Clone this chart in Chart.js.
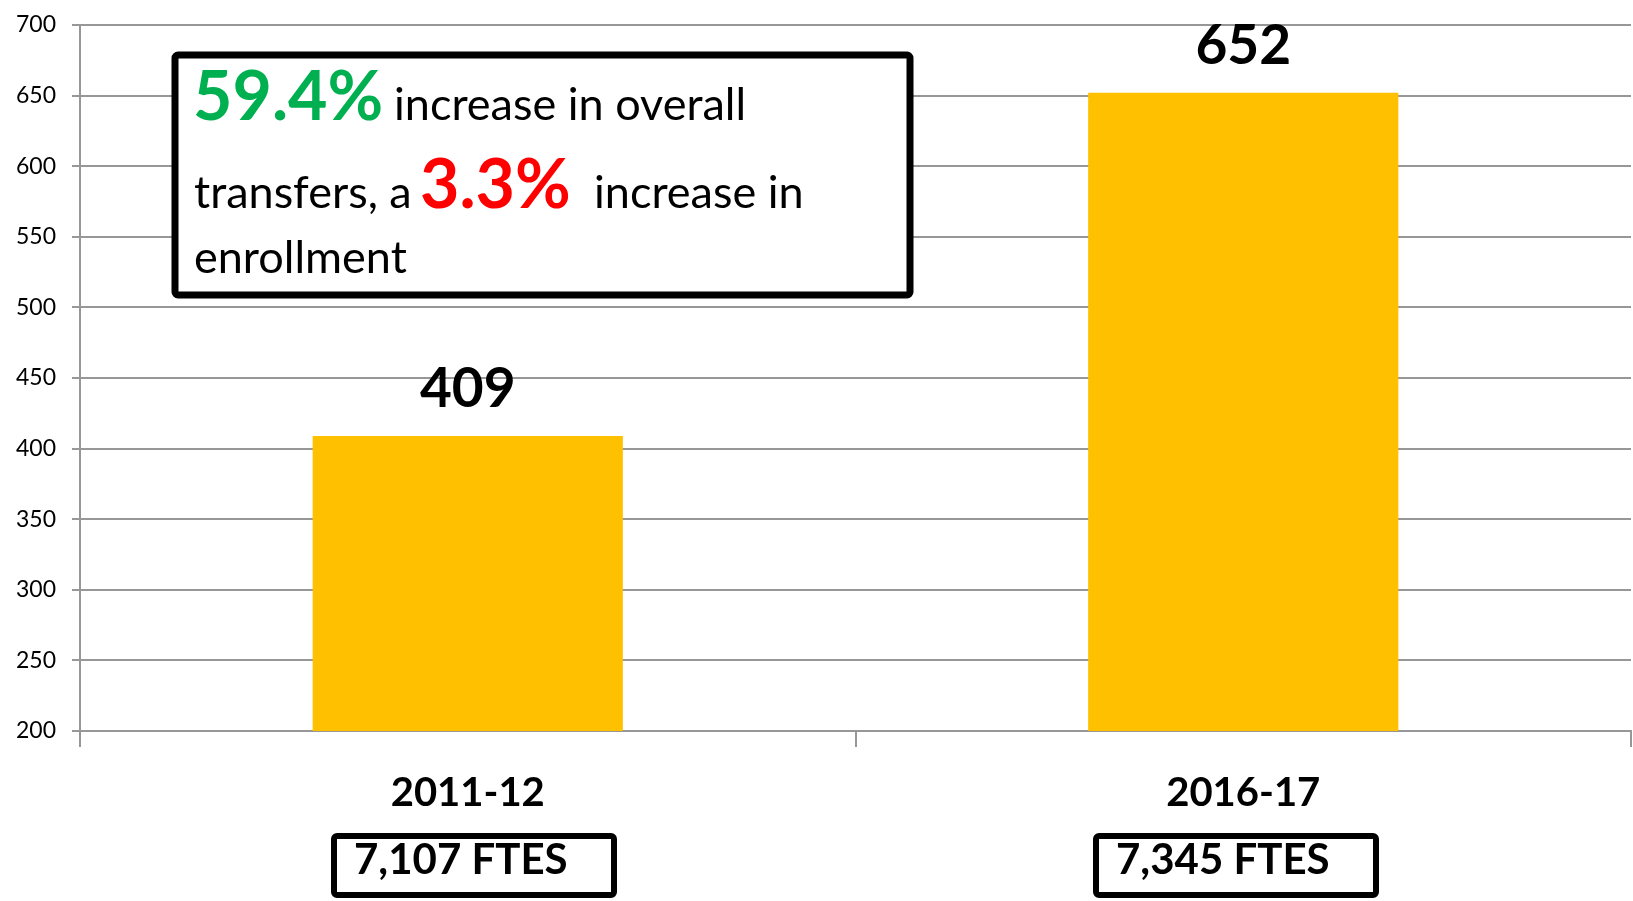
<!DOCTYPE html>
<html>
<head>
<meta charset="utf-8">
<script src="https://cdn.jsdelivr.net/npm/chart.js@4.4.1/dist/chart.umd.min.js"></script>
<style>
  body { margin: 0; background: #fff; }
  #wrap { position: relative; width: 1633px; height: 901px; }
</style>
</head>
<body>
<div id="wrap"><canvas id="transferChart"></canvas></div>
<script>
// dados do gráfico
var years = ['2011-12', '2016-17'];
var transfers = [409, 652];
var ftes = ['7,107 FTES', '7,345 FTES'];
var yTicks = [200, 250, 300, 350, 400, 450, 500, 550, 600, 650, 700];

var FONT = 'Lato, "Open Sans", sans-serif';
var gridColor = '#979797';

// valor acima de cada barra
var valueLabels = {
    id: 'valueLabels',
    afterDatasetsDraw: function (chart) {
        var ctx = chart.ctx;
        var meta = chart.getDatasetMeta(0);
        ctx.save();
        ctx.font = 'bold 55px ' + FONT;
        ctx.fillStyle = '#000';
        ctx.textAlign = 'center';
        ctx.textBaseline = 'alphabetic';
        meta.data.forEach(function (bar, i) {
            ctx.fillText(String(transfers[i]), bar.x, bar.y - 29);
        });
        ctx.restore();
    }
};

function boxStroke(ctx, x, y, w, h, lw) {
    ctx.save();
    ctx.fillStyle = '#fff';
    ctx.strokeStyle = '#000';
    ctx.lineWidth = lw;
    ctx.lineJoin = 'round';
    ctx.beginPath();
    ctx.roundRect(x, y, w, h, 3);
    ctx.fill();
    ctx.stroke();
    ctx.restore();
}

// caixa de texto e caixas FTES
var notes = {
    id: 'notes',
    afterDraw: function (chart) {
        var ctx = chart.ctx;
        boxStroke(ctx, 175, 55, 735, 240, 7);

        ctx.save();
        ctx.textBaseline = 'alphabetic';
        ctx.textAlign = 'left';
        var reg = '45px ' + FONT;
        var big = 'bold 68px ' + FONT;

        ctx.font = big; ctx.fillStyle = '#00B050';
        ctx.fillText('59.4%', 193, 120);
        ctx.font = reg; ctx.fillStyle = '#000';
        ctx.fillText('increase in overall', 394, 120);

        ctx.fillText('transfers, a', 194, 208);
        ctx.font = big; ctx.fillStyle = '#FF0000';
        ctx.fillText('3.3%', 420, 208);
        ctx.font = reg; ctx.fillStyle = '#000';
        ctx.fillText('increase in', 594, 208);

        ctx.fillText('enrollment', 194, 273);

        var boxLeft = [334, 1096];
        ctx.font = 'bold 42px ' + FONT;
        ftes.forEach(function (t, i) {
            var left = boxLeft[i];
            boxStroke(ctx, left, 836, 280, 59, 6);
            ctx.fillStyle = '#000';
            ctx.fillText(t, left + 20, 874);
        });
        ctx.restore();
    }
};

var ctx = document.getElementById('transferChart').getContext('2d');
var transferChart = new Chart(ctx, {
    type: 'bar',
    data: {
        labels: years,
        datasets: [{
            data: transfers,
            backgroundColor: '#FFC000',
            borderWidth: 0,
            barPercentage: 0.4,
            categoryPercentage: 1.0
        }]
    },
    options: {
        responsive: true,
        maintainAspectRatio: false,
        animation: false,
        layout: { padding: { top: 25, right: 2, left: 0, bottom: 0 } },
        plugins: {
            legend: { display: false },
            tooltip: { enabled: false }
        },
        scales: {
            x: {
                afterFit: function (s) { s.height = 170; },
                grid: {
                    offset: true,
                    drawOnChartArea: false,
                    drawTicks: true,
                    tickLength: 16,
                    color: gridColor,
                    lineWidth: 2
                },
                border: { display: true, color: gridColor, width: 2 },
                ticks: {
                    color: '#000',
                    padding: 22,
                    font: { family: FONT, size: 40, weight: 'bold' }
                }
            },
            y: {
                min: 200,
                max: 700,
                afterFit: function (s) {
                    s.width = 80;
                    s.paddingTop = 10;
                    s.paddingBottom = 10;
                },
                afterBuildTicks: function (s) {
                    s.ticks = yTicks.map(function (v) { return { value: v }; });
                },
                grid: {
                    color: gridColor,
                    lineWidth: 2,
                    tickLength: 8
                },
                border: { display: true, color: gridColor, width: 2 },
                ticks: {
                    color: '#000',
                    padding: 16,
                    font: { family: FONT, size: 23 }
                }
            }
        }
    },
    plugins: [valueLabels, notes]
});
</script>
</body>
</html>
